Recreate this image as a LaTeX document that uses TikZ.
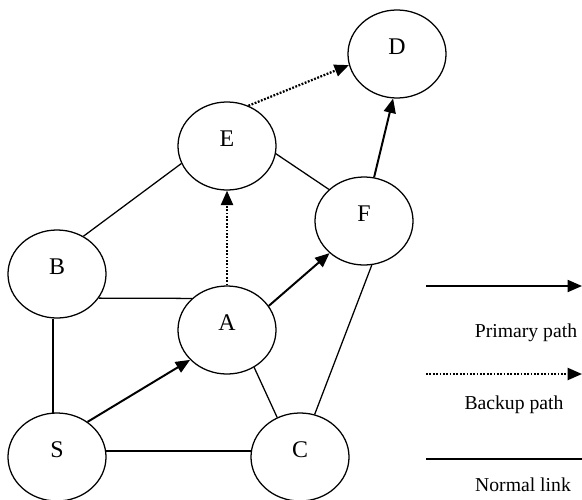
\documentclass[tikz,border=0pt]{standalone}
\usepackage{fontspec}
\setmainfont{Liberation Serif}
\usetikzlibrary{arrows.meta,shapes.geometric}
\tikzset{
  router/.style={draw, ellipse, line width=0.9pt, minimum width=2.45cm,
    minimum height=2.2cm, inner sep=0pt, text depth=0.35cm,
    font=\fontsize{17}{20}\selectfont},
  link/.style={line width=0.9pt},
  primary/.style={line width=1.4pt, -{Triangle[length=3.6mm,width=3mm]}},
  backup/.style={line width=1.6pt, dash pattern=on 1.3pt off 1.1pt,
    -{Triangle[length=3.6mm,width=3mm]}},
  legend/.style={font=\fontsize{14}{16}\selectfont}
}

\begin{document}
\begin{tikzpicture}[x=0.025cm,y=-0.025cm]
  \useasboundingbox (0,0) rectangle (582,499);
  % routers
  \node[router] (D) at (397,54) {D};
  \node[router] (E) at (227,146) {E};
  \node[router] (F) at (364,221) {F};
  \node[router] (B) at (57,274) {B};
  \node[router] (A) at (227,330) {A};
  \node[router] (S) at (57,457) {S};
  \node[router] (C) at (300,457) {C};
  % normal links
  \draw[link] (B.55) -- (E.201);
  \draw[link] (E.-9) -- (F.138);
  \draw[link] (B.-30) -- (A.138);
  \draw[link] (B.265) -- (S.95);
  \draw[link] (S.7) -- (C.173);
  \draw[link] (A.-54) -- (C.120);
  \draw[link] (C.71) -- (F.-80);
  % primary path S-A-F-D
  \draw[primary] (S.49) -- (A.219);
  \draw[primary] (A.30) -- (F.223);
  \draw[primary] (F.77) -- (D.265);
  % backup path A-E-D
  \draw[backup] (A.north) -- (E.south);
  \draw[backup] (E.62) -- (D.193);
  % legend
  \coordinate (pa) at (426,286);
  \coordinate (pb) at (582,286);
  \coordinate (ba) at (426,374);
  \coordinate (bb) at (582,374);
  \coordinate (na) at (426,459);
  \coordinate (nb) at (582,459);
  \draw[primary] (pa) -- (pb);
  \draw[backup] (ba) -- (bb);
  \draw[link] (na) -- (nb);
  \node[legend] (lp) at (526,333) {Primary path};
  \node[legend] (lb) at (514,405) {Backup path};
  \node[legend] (ln) at (523,485) {Normal link};
\end{tikzpicture}
\end{document}
